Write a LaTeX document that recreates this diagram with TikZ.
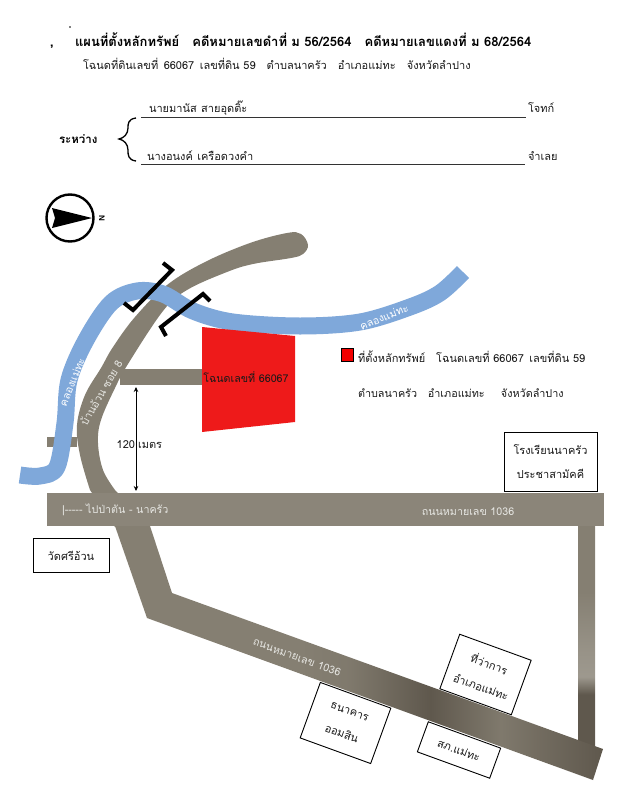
\documentclass[tikz,border=0pt]{standalone}
\usepackage{fontspec}
\setmainfont{Liberation Sans}
\newfontfamily\thaifont[Script=Thai]{Loma}
\usetikzlibrary{arrows.meta}
\definecolor{roadc}{HTML}{857F72}
\definecolor{roadd}{HTML}{5F584D}
\definecolor{riverc}{HTML}{7FA8DA}
\definecolor{redc}{HTML}{EE1A1A}
\definecolor{labelc}{HTML}{E6E6E2}
\pgfdeclarehorizontalshading{diagroad}{100bp}{
  color(0bp)=(roadc); color(25bp)=(roadc); color(44bp)=(roadc); color(49bp)=(roadc!85!roadd);
  color(57.3bp)=(roadd); color(64.5bp)=(roadc!85!roadd); color(68.5bp)=(roadc!50!roadd); color(75bp)=(roadd); color(100bp)=(roadd)}
\pgfdeclareverticalshading{uproad}{100bp}{
  color(0bp)=(roadd); color(37bp)=(roadd); color(41bp)=(roadc!80!white);
  color(47bp)=(roadc!85!white); color(60bp)=(roadc); color(100bp)=(roadc)}
\tikzset{
  every node/.style={inner sep=0pt,outer sep=0pt},
  th/.style={font=\thaifont\fontsize{#1}{#1}\selectfont,text=black!90},
  th/.default=11,
  leftth/.style={th=#1,anchor=base west},
  leftth/.default=11,
  headbold/.style={font=\thaifont\bfseries\fontsize{13}{13}\selectfont,text=black,anchor=base west},
  roadlabel/.style={font=\thaifont\fontsize{10.7}{11}\selectfont,text=labelc,anchor=center},
  riverlabel/.style={font=\thaifont\fontsize{10.5}{11}\selectfont,text=white,anchor=center},
  placebox/.style={draw=black,line width=0.9pt,fill=white,align=center,font=\thaifont\fontsize{11}{11}\selectfont,text=black!90},
  bracketline/.style={draw=black,line width=4pt,line join=miter},
  ruleline/.style={draw=black!80,line width=1pt}
}
\begin{document}
\begin{tikzpicture}[x=1pt,y=-1pt]
\useasboundingbox (0,0) rectangle (623,800);
% header
\node[headbold] (comma) at (50,47) {,};
\fill[black] (70,27) circle (0.9);
\node[headbold] (title) at (75,47) {แผนที่ตั้งหลักทรัพย์\hspace{1em}คดีหมายเลขดำที่ ม 56/2564\hspace{1em}คดีหมายเลขแดงที่ ม 68/2564};
\node[leftth] (sub) at (83,70) {โฉนดที่ดินเลขที่\hspace{0.5em}66067\hspace{0.5em}เลขที่ดิน 59\hspace{1em}ตำบลนาครัว\hspace{1em}อำเภอแม่ทะ\hspace{1em}จังหวัดลำปาง};
\node[leftth] (p1) at (149,112) {นายมานัส\hspace{0.4em}สายอุดติ๊ะ};
\node[leftth] (p1r) at (528,112) {โจทก์};
\node[leftth] (p2) at (147,160) {นางอนงค์\hspace{0.4em}เครือดวงคำ};
\node[leftth] (p2r) at (528,160) {จำเลย};
\node[font=\thaifont\bfseries\fontsize{11.5}{11.5}\selectfont,anchor=base west] (between) at (59,143) {ระหว่าง};
\coordinate (l1a) at (141,117); \coordinate (l1b) at (526,117);
\coordinate (l2a) at (141,164); \coordinate (l2b) at (525,164);
\draw[ruleline] (l1a) -- (l1b);
\draw[ruleline] (l2a) -- (l2b);
\draw[black,line width=1.3pt] (136,118) .. controls (128,119) and (128,124) .. (128,128) .. controls (128,134) and (124,138) .. (119,139) .. controls (124,140) and (128,144) .. (128,150) .. controls (128,155) and (128,160) .. (136,161);
% compass
\draw[black,line width=2.4pt] (70,218) circle (23.5);
\fill[black] (92,218) -- (52,208) -- (55,218) -- (52,228) -- cycle;
\node[rotate=-90,font=\fontsize{8}{8}\selectfont\bfseries] (north) at (102,218) {N};
% roads
\fill[roadc] (47,437) rectangle (77,447);
\fill[roadc]
  plot[smooth,tension=0.6] coordinates {(90,490) (80,455) (77,425) (85,395) (101,368) (113,347) (135,317) (167,285) (205,262) (250,243) (287,233) (301,234) (308,245) (303,254) (291,258) (253,264) (227,272) (187,290) (163,311) (128,364) (115,388) (101,420) (98,443) (103,470) (115,490)} -- (150,527) -- (115,527) -- cycle;
\fill[roadc] (120,369) rectangle (202,385);
\shade[shading=uproad] (578,525) rectangle (595,748);
\shade[shading=diagroad] (115,526) -- (150,526) -- (172,593) -- (578,740) -- (603,749) -- (593,780) -- (147,618) -- cycle;
\fill[roadc!95!white] (47,493) rectangle (604,526);
% river
\draw[riverc,line width=17pt,line join=round]
  plot[smooth,tension=0.55] coordinates {(20,475) (40,476) (57,467) (65,423) (69,380) (86,340) (111,303) (137,291) (163,294) (193,311) (233,322) (300,326) (360,322) (410,307) (440,293) (463,272)};
% brackets
\draw[bracketline] (163,263) -- (172,270) -- (133,310) -- (124,303);
\draw[bracketline] (166,336) -- (161,327) -- (203,294) -- (210,301);
% plot of land
\fill[redc] (202,327) -- (295,336) -- (295,422) -- (202,432) -- cycle;
\node[th=10.7] (plot) at (246,377) {โฉนดเลขที่ 66067};
% measure
\coordinate (ma) at (136,387); \coordinate (mb) at (136,491);
\draw[black,line width=0.7pt,{Stealth[length=5pt,width=4.5pt]}-{Stealth[length=5pt,width=4.5pt]}] (ma) -- (mb);
\node[th=11,anchor=base east] (m1) at (135,448) {120};
\node[th=11,anchor=base west] (m2) at (138,448) {เมตร};
% legend
\draw[black,line width=0.8pt,fill=red!95!black] (341,348.5) rectangle (353,361);
\node[leftth=11] (leg1) at (358,362) {ที่ตั้งหลักทรัพย์\hspace{1em}โฉนดเลขที่ 66067\hspace{0.5em}เลขที่ดิน 59};
\node[leftth=10.8] (leg2) at (358,397) {ตำบลนาครัว\hspace{1em}อำเภอแม่ทะ\hspace{1.5em}จังหวัดลำปาง};
% boxes
\node[placebox,minimum width=93pt,minimum height=59pt] (school) at (550.5,461.5) {โรงเรียนนาครัว\\[13pt]ประชาสามัคคี};
\node[placebox,minimum width=76pt,minimum height=34pt] (temple) at (71,555.5) {วัดศรีอ้วน};
\node[placebox,rotate=-20,minimum width=75pt,minimum height=59pt] (bank) at (345.5,723) {ธนาคาร\\[13pt]ออมสิน};
\node[placebox,rotate=-20,minimum width=76pt,minimum height=58pt] (office) at (485.5,674.5) {ที่ว่าการ\\[13pt]อำเภอแม่ทะ};
\node[placebox,rotate=-20,minimum width=77pt,minimum height=32pt] (police) at (459,750) {สภ.แม่ทะ};
% road and river labels
\node[roadlabel] (r1) at (468,512) {ถนนหมายเลข 1036};
\node[roadlabel,anchor=base west] (r2) at (62,513) {|----- ไปป่าตัน - นาครัว};
\node[roadlabel,rotate=-20] (r3) at (297,657) {ถนนหมายเลข 1036};
\node[roadlabel,rotate=60] (r4) at (101,393) {บ้านอ้วน ซอย 8};
\node[riverlabel,rotate=68] (r5) at (72,382) {คลองแม่ทะ};
\node[riverlabel,rotate=22] (r6) at (384,317) {คลองแม่ทะ};
\end{tikzpicture}
\end{document}
